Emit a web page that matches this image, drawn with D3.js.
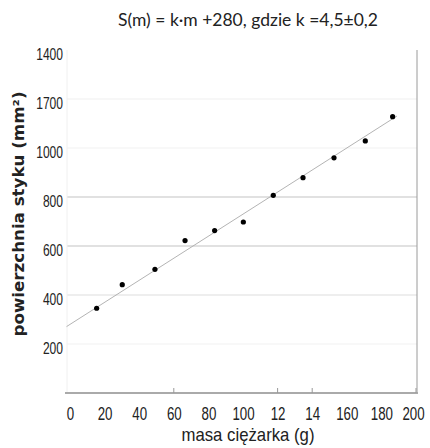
<!DOCTYPE html>
<html>
<head>
<meta charset="utf-8">
<script src="https://cdn.jsdelivr.net/npm/d3@7"></script>
<style>
  body { margin: 0; background: #fff; }
  text { fill: #222; }
</style>
</head>
<body>
<svg id="chart" width="430" height="448"></svg>
<script>
/* measured points: mass of weight (g) vs contact area (mm2) */
var masses = [15.4, 30.2, 49.1, 66.5, 83.6, 100.2, 117.5, 134.7, 152.6, 170.7, 186.5];
var areas  = [346, 442, 505, 622, 663, 698, 807, 879, 960, 1029, 1128];

/* fit line from the title: S(m) = k*m + 280 */
var fitK = 4.5, fitB = 280;
var fitRange = [-2, 189];

/* tick values and their labels as printed on the chart */
var xTicks = [0, 20, 40, 60, 80, 100, 120, 140, 160, 180, 200];
var xTickLabels = ["0", "20", "40", "60", "80", "100", "12", "14", "160", "180", "200"];
var xTickMarks = [60, 120, 140, 200];
var yTicks = [200, 400, 600, 800, 1000, 1200, 1400];
var yTickLabels = ["200", "400", "600", "800", "1000", "1700", "1400"];

var titleText = "S(m) = k\u00b7m +280, gdzie k =4,5\u00b10,2";
var xTitle = "masa  ci\u0119\u017carka (g)";
var yTitle = "powierzchnia styku (mm\u00b2)";

/* grid line shades, darker ones in the middle like the original */
var gridColor = {200: "#f2f2f2", 400: "#dedede", 600: "#c4c4c4", 800: "#c4c4c4",
                 1000: "#f2f2f2", 1200: "#f0f0f0", 1400: "none"};

var svg = d3.select("#chart");
var mLeft = 67, mRight = 417, mTop = 50, mBottom = 393;
var narrow = "'Liberation Sans', Arial, sans-serif";

var x = d3.scaleLinear().domain([0, 200]).range([70, 416]);
var y = d3.scaleLinear().domain([0, 1400]).range([mBottom, mTop]);

/* grid */
svg.append("g").selectAll("line")
  .data(yTicks).enter().append("line")
  .attr("x1", mLeft).attr("x2", mRight)
  .attr("y1", function(d) { return y(d); })
  .attr("y2", function(d) { return y(d); })
  .attr("stroke", function(d) { return gridColor[d]; })
  .attr("stroke-width", 1.2);

/* frame: faint left, grey right */
svg.append("line").attr("x1", mLeft).attr("x2", mLeft)
  .attr("y1", mTop).attr("y2", mBottom).attr("stroke", "#f0f0f0");
svg.append("line").attr("x1", mRight).attr("x2", mRight)
  .attr("y1", mTop).attr("y2", mBottom).attr("stroke", "#9a9a9a");

/* x axis */
var xAxis = d3.axisBottom(x).tickValues(xTicks)
  .tickSize(0)
  .tickFormat(function(d, i) { return xTickLabels[i]; });
var gx = svg.append("g").attr("transform", "translate(0," + mBottom + ")").call(xAxis);
gx.select(".domain").attr("stroke", "#aaa").attr("stroke-width", 2)
  .attr("d", "M" + (mLeft - 2) + ",0H" + (mRight + 1));
gx.selectAll("text").attr("font-family", narrow)
  .attr("font-size", 18).attr("fill", "#222")
  .attr("y", 27).attr("dy", 0)
  .attr("textLength", function(d, i) { return xTickLabels[i].length * 7.4; })
  .attr("lengthAdjust", "spacingAndGlyphs");
/* last label sits a bit inside so it is not clipped */
gx.selectAll(".tick").filter(function(d) { return d === 200; })
  .select("text").attr("x", -3);
gx.selectAll(".mark").data(xTickMarks).enter().append("line")
  .attr("class", "mark")
  .attr("x1", function(d) { return x(d); }).attr("x2", function(d) { return x(d); })
  .attr("y1", -5).attr("y2", 0).attr("stroke", "#999");

/* y axis, labels only */
var yAxis = d3.axisLeft(y).tickValues(yTicks)
  .tickSize(0).tickPadding(4)
  .tickFormat(function(d, i) { return yTickLabels[i]; });
var gy = svg.append("g").attr("transform", "translate(" + mLeft + ",0)").call(yAxis);
gy.select(".domain").remove();
gy.selectAll("text").attr("font-family", narrow)
  .attr("font-size", 16).attr("fill", "#222")
  .attr("dy", "0.6em")
  .attr("textLength", function(d, i) { return yTickLabels[i].length * 6.7; })
  .attr("lengthAdjust", "spacingAndGlyphs");

/* fit line */
svg.append("line")
  .attr("x1", x(fitRange[0])).attr("y1", y(fitK * fitRange[0] + fitB))
  .attr("x2", x(fitRange[1])).attr("y2", y(fitK * fitRange[1] + fitB))
  .attr("stroke", "#aaa").attr("stroke-width", 0.9);

/* points */
svg.append("g").selectAll("circle")
  .data(masses).enter().append("circle")
  .attr("cx", function(d) { return x(d); })
  .attr("cy", function(d, i) { return y(areas[i]); })
  .attr("r", 2.6)
  .attr("fill", "#000");

/* titles */
svg.append("text").attr("x", 248).attr("y", 26)
  .attr("text-anchor", "middle")
  .attr("font-family", "Lato, 'DejaVu Sans', sans-serif").attr("font-size", 18)
  .attr("textLength", 260).attr("lengthAdjust", "spacingAndGlyphs")
  .text(titleText);

svg.append("text").attr("x", 248).attr("y", 441)
  .attr("text-anchor", "middle")
  .attr("font-family", narrow)
  .attr("font-size", 19)
  .attr("textLength", 133).attr("lengthAdjust", "spacingAndGlyphs")
  .text(xTitle);

svg.append("text")
  .attr("transform", "translate(24,214) rotate(-90)")
  .attr("text-anchor", "middle")
  .attr("font-family", "'DejaVu Sans', sans-serif").attr("font-weight", "bold")
  .attr("font-size", 15)
  .attr("textLength", 245).attr("lengthAdjust", "spacingAndGlyphs")
  .text(yTitle);
</script>
</body>
</html>
